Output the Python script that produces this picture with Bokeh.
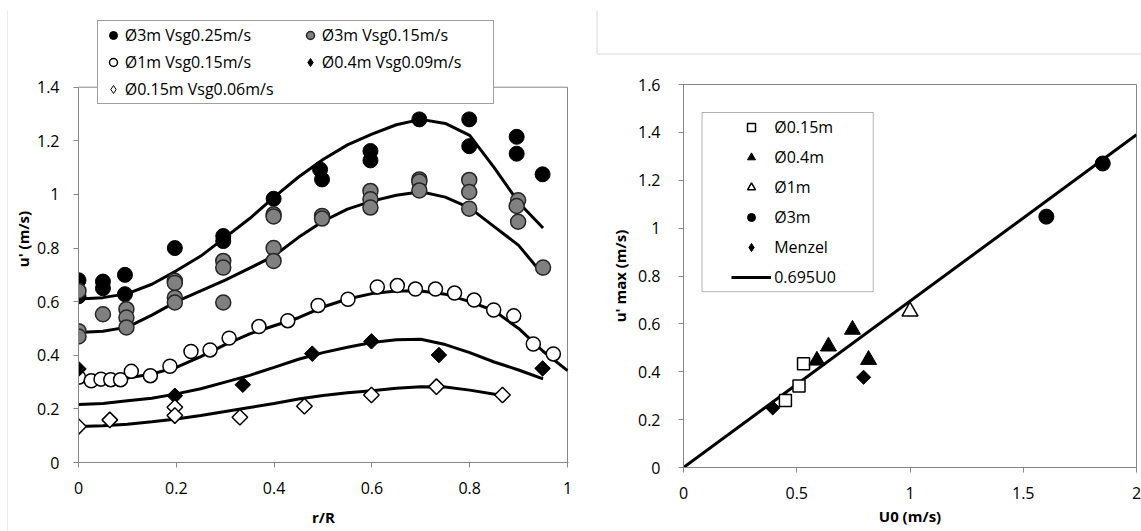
import numpy as np
from bokeh.plotting import figure
from bokeh.layouts import row, column
from bokeh.models import (Range1d, FixedTicker, CustomJSTickFormatter, Legend, LegendItem,
                          BoxAnnotation)
from bokeh.embed import file_html
from bokeh.resources import INLINE

FONT = "Open Sans"

# ---------------- left chart data: u' vs r/R ----------------
r_3m25 = [0, 0, 0.05, 0.05, 0.095, 0.095, 0.197, 0.296, 0.296, 0.399, 0.494, 0.498,
          0.597, 0.597, 0.697, 0.799, 0.799, 0.896, 0.896, 0.949]
u_3m25 = [0.68, 0.62, 0.675, 0.65, 0.70, 0.628, 0.80, 0.845, 0.826, 0.984, 1.093, 1.056,
          1.162, 1.127, 1.28, 1.28, 1.18, 1.215, 1.152, 1.075]

r_3m15 = [0, 0, 0, 0.05, 0.098, 0.098, 0.098, 0.197, 0.197, 0.197, 0.197, 0.296, 0.296, 0.296,
          0.399, 0.399, 0.399, 0.399, 0.498, 0.498, 0.597, 0.597, 0.597, 0.697, 0.697, 0.697,
          0.799, 0.799, 0.799, 0.899, 0.896, 0.899, 0.95]
u_3m15 = [0.64, 0.49, 0.47, 0.553, 0.572, 0.541, 0.504, 0.678, 0.67, 0.615, 0.597, 0.752, 0.727, 0.597,
          0.926, 0.918, 0.80, 0.752, 0.92, 0.91, 1.013, 0.982, 0.951, 1.056, 1.048, 1.015,
          1.054, 1.009, 0.947, 0.978, 0.957, 0.898, 0.727]

r_1m = [0, 0.026, 0.046, 0.066, 0.086, 0.108, 0.147, 0.187, 0.23, 0.269, 0.308, 0.369, 0.428,
        0.49, 0.551, 0.611, 0.652, 0.689, 0.73, 0.769, 0.809, 0.849, 0.89, 0.93, 0.971]
u_1m = [0.318, 0.305, 0.311, 0.309, 0.309, 0.34, 0.324, 0.359, 0.414, 0.42, 0.464, 0.507, 0.529,
        0.586, 0.609, 0.655, 0.66, 0.647, 0.647, 0.632, 0.606, 0.569, 0.547, 0.442, 0.405]

r_04m = [0, 0.197, 0.336, 0.478, 0.599, 0.737, 0.949]
u_04m = [0.349, 0.249, 0.29, 0.406, 0.452, 0.401, 0.351]

r_015m = [0, 0.064, 0.197, 0.197, 0.33, 0.462, 0.599, 0.732, 0.867]
u_015m = [0.134, 0.159, 0.206, 0.175, 0.169, 0.21, 0.252, 0.283, 0.252]

# smoothed trend curves
c_3m25_r = [0, 0.05, 0.1, 0.15, 0.2, 0.25, 0.3, 0.35, 0.4, 0.45, 0.5, 0.55, 0.6, 0.65, 0.7,
            0.75, 0.8, 0.85, 0.9, 0.95]
c_3m25_u = [0.61, 0.615, 0.63, 0.665, 0.715, 0.77, 0.84, 0.91, 0.99, 1.065, 1.13, 1.185, 1.225,
            1.26, 1.28, 1.265, 1.22, 1.10, 0.97, 0.875]

c_3m15_r = [0, 0.05, 0.1, 0.15, 0.2, 0.25, 0.3, 0.35, 0.4, 0.45, 0.5, 0.55, 0.6, 0.65, 0.7,
            0.75, 0.8, 0.85, 0.9, 0.95]
c_3m15_u = [0.485, 0.49, 0.505, 0.55, 0.60, 0.64, 0.68, 0.725, 0.771, 0.84, 0.90, 0.945, 0.975,
            0.997, 1.01, 0.99, 0.95, 0.88, 0.81, 0.70]

c_1m_r = [0, 0.05, 0.1, 0.15, 0.2, 0.25, 0.3, 0.35, 0.4, 0.45, 0.5, 0.55, 0.6, 0.65, 0.7,
          0.75, 0.8, 0.85, 0.9, 0.95, 1.0]
c_1m_u = [0.30, 0.302, 0.315, 0.33, 0.355, 0.395, 0.44, 0.48, 0.51, 0.54, 0.58, 0.61, 0.63, 0.64,
          0.64, 0.628, 0.60, 0.566, 0.50, 0.415, 0.343]

c_04m_r = [0, 0.05, 0.1, 0.15, 0.2, 0.25, 0.3, 0.35, 0.4, 0.45, 0.5, 0.55, 0.6, 0.65, 0.7,
           0.75, 0.8, 0.85, 0.9, 0.95]
c_04m_u = [0.216, 0.22, 0.23, 0.24, 0.256, 0.275, 0.30, 0.325, 0.355, 0.385, 0.41, 0.43, 0.448,
           0.458, 0.46, 0.44, 0.41, 0.375, 0.345, 0.312]

c_015m_r = [0, 0.05, 0.1, 0.15, 0.2, 0.25, 0.3, 0.35, 0.4, 0.45, 0.5, 0.55, 0.6, 0.65, 0.7,
            0.75, 0.8, 0.87]
c_015m_u = [0.134, 0.137, 0.143, 0.152, 0.162, 0.175, 0.19, 0.205, 0.22, 0.237, 0.25, 0.26, 0.268,
            0.277, 0.283, 0.282, 0.27, 0.249]

left_xticks = [0, 0.2, 0.4, 0.6, 0.8, 1]
left_yticks = [0, 0.2, 0.4, 0.6, 0.8, 1, 1.2, 1.4]
LEFT_YMAX = 1.4

# ---------------- right chart data: u'max vs U0 ----------------
u0_015m = [0.45, 0.51, 0.53]
um_015m = [0.28, 0.34, 0.433]
u0_04m = [0.589, 0.64, 0.746, 0.817]
um_04m = [0.447, 0.506, 0.576, 0.45]
u0_1m = [1.0]
um_1m = [0.652]
u0_3m = [1.602, 1.851]
um_3m = [1.048, 1.27]
u0_menzel = [0.394, 0.795]
um_menzel = [0.249, 0.377]
fit_u0 = [0, 2]
fit_um = [0, 1.39]   # 0.695 * U0

right_xticks = [0, 0.5, 1, 1.5, 2]
right_yticks = [0, 0.2, 0.4, 0.6, 0.8, 1, 1.2, 1.4, 1.6]

GREY = "#868686"
FRAME_GREY = "#d9d9d9"


def style(p, xticks, yticks, xlabel, ylabel, xstand, ystand, ytick_stand):
    p.xaxis.ticker = FixedTicker(ticks=xticks)
    p.yaxis.ticker = FixedTicker(ticks=yticks)
    fmt = "return String(tick);"
    p.xaxis.formatter = CustomJSTickFormatter(code=fmt)
    p.yaxis.formatter = CustomJSTickFormatter(code=fmt)
    p.xaxis.axis_label = xlabel
    p.yaxis.axis_label = ylabel
    for ax in (p.xaxis[0], p.yaxis[0]):
        ax.axis_line_color = GREY
        ax.major_tick_line_color = GREY
        ax.minor_tick_line_color = None
        ax.major_tick_out = 5
        ax.major_tick_in = 0
        ax.major_label_text_font = FONT
        ax.major_label_text_font_size = "16px"
        ax.major_label_text_color = "#000000"
        ax.axis_label_text_font = FONT
        ax.axis_label_text_font_size = "15px"
        ax.axis_label_text_font_style = "bold"
        ax.axis_label_text_color = "#000000"
    p.xaxis.major_label_standoff = 14
    p.yaxis.major_label_standoff = ytick_stand
    p.xaxis.axis_label_standoff = xstand
    p.yaxis.axis_label_standoff = ystand
    p.grid.visible = False
    p.outline_line_color = GREY
    p.outline_line_width = 1
    p.background_fill_color = "white"
    p.border_fill_color = "white"
    p.frame_align = False


def blank(width, height, xr, yr):
    q = figure(width=width, height=height, output_backend="svg", toolbar_location=None,
               x_range=xr, y_range=yr, x_axis_location=None, y_axis_location=None,
               min_border=0, min_border_left=0, min_border_right=0,
               min_border_top=0, min_border_bottom=0)
    q.grid.visible = False
    q.outline_line_color = None
    q.border_fill_color = "white"
    q.frame_align = False
    return q


# thin strip on the far left: faint outer chart border
strip = blank(8, 531, Range1d(0, 8), Range1d(531, 0))
strip.line([7.5, 7.5], [10, 531], line_color=FRAME_GREY, line_width=1)

# ---------------- left figure ----------------
p1 = figure(width=582, height=531, output_backend="svg", toolbar_location=None,
            x_range=Range1d(0, 1.002), y_range=Range1d(0, 1.6675),
            min_border_left=70, min_border_right=22, min_border_top=15, min_border_bottom=69)
style(p1, left_xticks, left_yticks, "r/R", "u' (m/s)", 10, 1, 14)
p1.outline_line_color = None
p1.yaxis.bounds = (0, LEFT_YMAX)
# plot-area border (top and right) at the axis limits
p1.line([0, 1], [LEFT_YMAX, LEFT_YMAX], line_color=GREY, line_width=1)
p1.line([1, 1], [0, LEFT_YMAX], line_color=GREY, line_width=1)

for cx, cy in [(c_3m25_r, c_3m25_u), (c_3m15_r, c_3m15_u), (c_1m_r, c_1m_u),
               (c_04m_r, c_04m_u), (c_015m_r, c_015m_u)]:
    p1.line(cx, cy, line_color="black", line_width=3)

s1 = p1.scatter(r_3m25, u_3m25, marker="circle", size=15, fill_color="black", line_color="black")
s2 = p1.scatter(r_3m15, u_3m15, marker="circle", size=15, fill_color="#808080",
                line_color="#262626", line_width=1.5)
s3 = p1.scatter(r_1m, u_1m, marker="circle", size=14, fill_color="white",
                line_color="black", line_width=1.5)
# diamond glyphs used for the legend keys (hidden underneath the rotated squares)
d4 = p1.scatter(r_04m, u_04m, marker="diamond", size=13, fill_color="black", line_color="black")
d5 = p1.scatter(r_015m, u_015m, marker="diamond", size=13, fill_color="white",
                line_color="black", line_width=1)
s4 = p1.scatter(r_04m, u_04m, marker="square", angle=np.pi / 4, size=11, fill_color="black",
                line_color="black")
s5 = p1.scatter(r_015m, u_015m, marker="square", angle=np.pi / 4, size=11, fill_color="white",
                line_color="black", line_width=1.5)

leg1 = Legend(items=[LegendItem(label="Ø3m Vsg0.25m/s", renderers=[s1]),
                     LegendItem(label="Ø3m Vsg0.15m/s", renderers=[s2]),
                     LegendItem(label="Ø1m Vsg0.15m/s", renderers=[s3]),
                     LegendItem(label="Ø0.4m Vsg0.09m/s", renderers=[d4]),
                     LegendItem(label="Ø0.15m Vsg0.06m/s", renderers=[d5])],
              location=(18.7, 358), orientation="horizontal", ncols=2,
              padding=3, glyph_width=24, glyph_height=20, label_standoff=0,
              label_width=168, spacing=5, label_text_font=FONT, label_text_font_size="16px",
              label_text_color="#000000",
              border_line_color="#3f3f3f", border_line_width=1,
              background_fill_color="white", background_fill_alpha=1)
p1.add_layout(leg1)

# ---------------- right side ----------------
corner = blank(551, 60, Range1d(0, 551), Range1d(60, 0))
corner.line([6.5, 6.5, 551], [10, 53.5, 53.5], line_color=FRAME_GREY, line_width=1)

p2 = figure(width=551, height=471, output_backend="svg", toolbar_location=None,
            x_range=Range1d(0, 2), y_range=Range1d(0, 1.6),
            min_border_left=93, min_border_right=5, min_border_top=24, min_border_bottom=64)
style(p2, right_xticks, right_yticks, "U0 (m/s)", "u' max (m/s)", 4, 5, 18)

box = BoxAnnotation(left=0.0818, right=0.8376, top=1.483, bottom=0.7345,
                    fill_color="white", fill_alpha=1, line_color="black", line_width=1)
p2.add_layout(box)

f = p2.line(fit_u0, fit_um, line_color="black", line_width=3)
t1 = p2.scatter(u0_015m, um_015m, marker="square", size=12, fill_color="white",
                line_color="black", line_width=1.5)
t2 = p2.scatter(u0_04m, um_04m, marker="triangle", size=16, fill_color="black",
                line_color="black")
t3 = p2.scatter(u0_1m, um_1m, marker="triangle", size=16, fill_color="white",
                line_color="black", line_width=1.5)
t4 = p2.scatter(u0_3m, um_3m, marker="circle", size=15, fill_color="black", line_color="black")
d6 = p2.scatter(u0_menzel, um_menzel, marker="diamond", size=12, fill_color="black",
                line_color="black")
t5 = p2.scatter(u0_menzel, um_menzel, marker="square", angle=np.pi / 4, size=10,
                fill_color="black", line_color="black")

leg2 = Legend(items=[LegendItem(label="Ø0.15m", renderers=[t1]),
                     LegendItem(label="Ø0.4m", renderers=[t2]),
                     LegendItem(label="Ø1m", renderers=[t3]),
                     LegendItem(label="Ø3m", renderers=[t4]),
                     LegendItem(label="Menzel", renderers=[d6]),
                     LegendItem(label="0.695U0", renderers=[f])],
              location=(43.2, 174.5), orientation="vertical",
              padding=5, glyph_width=40, glyph_height=20, label_standoff=3,
              spacing=8, label_text_font=FONT, label_text_font_size="16px",
              label_text_color="#000000",
              border_line_alpha=0, background_fill_alpha=0)
p2.add_layout(leg2)

layout = row(strip, p1, column(corner, p2))
open("out.html", "w").write(file_html(layout, INLINE))
